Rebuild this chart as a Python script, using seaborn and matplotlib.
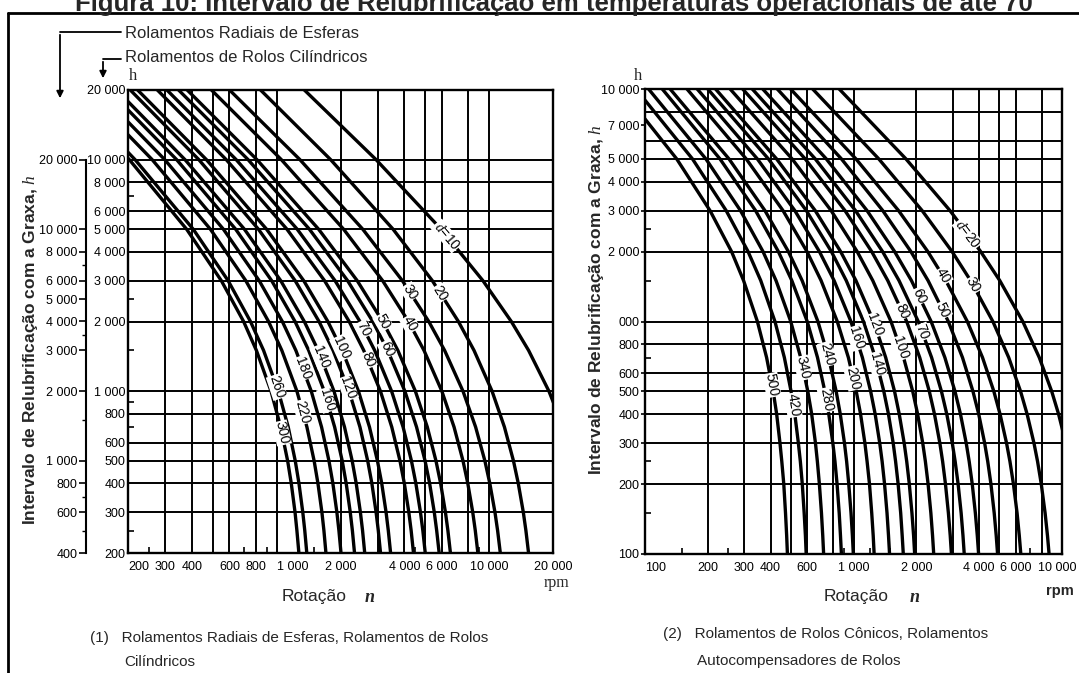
import numpy as np
import pandas as pd
import matplotlib
matplotlib.use("Agg")
import matplotlib.pyplot as plt
import matplotlib.transforms as mtransforms
import seaborn as sns
from matplotlib.lines import Line2D
from matplotlib.patches import FancyArrowPatch

W, H = 1079, 673

# ---------------- data: left chart (rpm n at each h level, inner h scale) -----------------
left_levels = [20000, 10000, 5000, 3000, 2000, 1500, 1000, 700, 500, 400, 300, 250, 200]
left_d = [10, 20, 30, 40, 50, 60, 70, 80, 100, 120, 140, 160, 180, 220, 260, 300]
L_d10 = [1352, 2942, 5959, 9363, 12731, 15354, 19137, 22320]
L_d20 = [841, 1798, 3540, 5412, 7176, 8499, 10335, 11817, 13032, 13725, 14499, 14912, 15346]
L_d30 = [601, 1289, 2549, 3912, 5205, 6180, 7542, 8648, 9561, 10083, 10663, 10974, 11300]
L_d40 = [494, 1054, 2071, 3158, 4178, 4943, 5998, 6846, 7543, 7943, 8381, 8616, 8861]
L_d50 = [380, 809, 1580, 2398, 3158, 3724, 4502, 5123, 5628, 5918, 6235, 6404, 6582]
L_d60 = [346, 735, 1430, 2161, 2837, 3335, 4018, 4560, 5001, 5253, 5525, 5671, 5825]
L_d70 = [305, 646, 1253, 1886, 2469, 2897, 3479, 3941, 4314, 4525, 4757, 4881, 5010]
L_d80 = [275, 580, 1121, 1683, 2197, 2573, 3083, 3486, 3810, 3993, 4193, 4300, 4411]
L_d100 = [222, 468, 899, 1343, 1744, 2037, 2430, 2738, 2985, 3126, 3277, 3357, 3442]
L_d120 = [205, 431, 823, 1224, 1585, 1846, 2195, 2469, 2686, 2809, 2941, 3012, 3086]
L_d140 = [177, 371, 707, 1047, 1351, 1570, 1863, 2089, 2270, 2371, 2481, 2540, 2600]
L_d160 = [162, 339, 643, 949, 1222, 1417, 1677, 1877, 2038, 2127, 2223, 2275, 2328]
L_d180 = [143, 298, 563, 829, 1065, 1233, 1457, 1629, 1765, 1841, 1923, 1966, 2011]
L_d220 = [125, 260, 489, 717, 917, 1059, 1247, 1390, 1503, 1566, 1635, 1671, 1708]
L_d260 = [105, 216, 406, 592, 754, 869, 1020, 1135, 1225, 1275, 1329, 1358, 1388]
L_d300 = [98, 203, 378, 550, 700, 804, 942, 1046, 1128, 1173, 1222, 1247, 1274]
left_curves = [L_d10, L_d20, L_d30, L_d40, L_d50, L_d60, L_d70, L_d80, L_d100,
               L_d120, L_d140, L_d160, L_d180, L_d220, L_d260, L_d300]
left_label_h = [4678, 2655, 2681, 1951, 1990, 1521, 1857, 1364, 1536, 1032, 1405,
                916, 1259, 813, 1043, 660]

left_inner_ticks = [20000, 10000, 8000, 6000, 5000, 4000, 3000, 2000, 1000, 800, 600, 500, 400, 300, 200]
left_inner_labels = ["20 000", "10 000", "8 000", "6 000", "5 000", "4 000", "3 000", "2 000",
                     "1 000", "800", "600", "500", "400", "300", "200"]
left_outer_ticks = [20000, 10000, 8000, 6000, 5000, 4000, 3000, 2000, 1000, 800, 600, 400]
left_outer_labels = ["20 000", "10 000", "8 000", "6 000", "5 000", "4 000", "3 000", "2 000",
                     "1 000", "800", "600", "400"]
left_x_ticks = [200, 300, 400, 600, 800, 1000, 2000, 4000, 6000, 10000, 20000]
left_x_labels = ["200", "300", "400", "600", "800", "1 000", "2 000", "4 000", "6 000", "10 000", "20 000"]
left_hgrid = [10000, 8000, 6000, 5000, 4000, 3000, 2000, 1000, 800, 600, 500, 400, 300]
left_vgrid = [300, 400, 500, 600, 800, 1000, 2000, 3000, 4000, 5000, 6000, 8000, 10000]
left_x_minor = [250, 700, 900, 1500, 4500, 9000]
left_y_minor = [7000, 2500, 1500, 900, 700, 250]
left_outer_minor = [7000, 3500, 1500, 700, 500]

# ---------------- data: right chart -----------------
right_levels = [10000, 5000, 3000, 2000, 1500, 1000, 700, 500, 400, 300, 250, 200, 150, 120, 100]
right_d = [20, 30, 40, 50, 60, 70, 80, 100, 120, 140, 160, 200, 240, 280, 340, 420, 500]
R_d20 = [854, 1786, 2902, 4072, 5029, 6486, 7780, 8930, 9627, 10430]
R_d30 = [637, 1323, 2133, 2968, 3644, 4661, 5552, 6331, 6801, 7337, 7635, 7954, 8298, 8518, 8670]
R_d40 = [499, 1028, 1644, 2271, 2772, 3515, 4157, 4713, 5044, 5420, 5628, 5849, 6089, 6239, 6345]
R_d50 = [431, 876, 1381, 1884, 2278, 2850, 3332, 3742, 3985, 4256, 4404, 4562, 4730, 4836, 4909]
R_d60 = [367, 741, 1161, 1574, 1896, 2357, 2743, 3068, 3258, 3472, 3588, 3711, 3841, 3924, 3981]
R_d70 = [327, 656, 1022, 1378, 1653, 2045, 2369, 2642, 2801, 2977, 3073, 3175, 3283, 3350, 3397]
R_d80 = [294, 587, 910, 1222, 1460, 1799, 2078, 2311, 2445, 2595, 2676, 2761, 2852, 2910, 2949]
R_d100 = [256, 508, 781, 1041, 1237, 1513, 1738, 1924, 2030, 2148, 2212, 2279, 2350, 2394, 2425]
R_d120 = [218, 428, 655, 867, 1027, 1249, 1427, 1574, 1657, 1750, 1800, 1852, 1907, 1942, 1965]
R_d140 = [200, 391, 594, 783, 923, 1117, 1272, 1398, 1471, 1550, 1592, 1637, 1684, 1712, 1733]
R_d160 = [178, 346, 523, 686, 807, 972, 1103, 1209, 1270, 1336, 1372, 1409, 1448, 1472, 1489]
R_d200 = [159, 306, 459, 598, 699, 836, 945, 1031, 1081, 1134, 1162, 1193, 1223, 1243, 1256]
R_d240 = [132, 253, 376, 487, 567, 675, 759, 826, 864, 905, 927, 949, 973, 988, 998]
R_d280 = [121, 229, 339, 436, 506, 600, 672, 729, 761, 796, 815, 834, 854, 866, 875]
R_d340 = [104, 196, 287, 368, 425, 500, 558, 604, 630, 657, 671, 686, 702, 712, 719]
R_d420 = [90.5, 169, 245, 312, 359, 420, 466, 502, 523, 544, 556, 568, 580, 588, 593]
R_d500 = [76.9, 142, 205, 260, 297, 346, 383, 412, 428, 444, 453, 463, 472, 478, 482]
right_curves = [R_d20, R_d30, R_d40, R_d50, R_d60, R_d70, R_d80, R_d100, R_d120,
                R_d140, R_d160, R_d200, R_d240, R_d280, R_d340, R_d420, R_d500]
right_label_h = [2378, 1435, 1569, 1121, 1287, 901, 1110, 769, 966, 657, 849, 571,
                 725, 460, 631, 437, 533]

right_y_ticks = [10000, 7000, 5000, 4000, 3000, 2000, 1000, 800, 600, 500, 400, 300, 200, 100]
right_y_labels = ["10 000", "7 000", "5 000", "4 000", "3 000", "2 000", "000", "800", "600",
                  "500", "400", "300", "200", "100"]
right_x_ticks = [100, 200, 300, 400, 600, 1000, 2000, 4000, 6000, 10000]
right_x_labels = ["100", "200", "300", "400", "600", "1 000", "2 000", "4 000", "6 000", "10 000"]
right_hgrid = [8000, 6000, 5000, 4000, 3000, 2000, 1000, 800, 600, 500, 400, 300, 200]
right_vgrid = [200, 300, 400, 500, 600, 800, 1000, 2000, 3000, 4000, 5000, 6000, 8000]
right_x_minor = [150, 250, 900, 1200, 1500, 7000]
right_y_minor = [2500, 1500, 700, 250, 150]

# ---------------- styling -----------------
sns.set_theme(style="white")
SANS = ["Liberation Sans", "DejaVu Sans"]
SERIF = ["Liberation Serif", "DejaVu Serif"]
plt.rcParams["font.family"] = SANS
plt.rcParams["mathtext.fontset"] = "custom"
plt.rcParams["mathtext.it"] = "Liberation Serif:italic"
plt.rcParams["mathtext.rm"] = "Liberation Sans"
plt.rcParams["mathtext.bf"] = "Liberation Sans:bold"
TICK = 9

fig = plt.figure(figsize=(W / 100, H / 100), dpi=100)
fig.patch.set_facecolor("white")


def fx(x):
    return x / W


def fy(y):
    return 1 - y / H


def make_df(levels, dvals, curves):
    rows = []
    for d, ns in zip(dvals, curves):
        for n, h in zip(ns, levels[:len(ns)]):
            rows.append({"n": n, "h": h, "d": d})
    return pd.DataFrame(rows)


def style_axes(ax, xlim, ylim, hgrid, vgrid):
    ax.set_xscale("log")
    ax.set_yscale("log")
    ax.set_xlim(*xlim)
    ax.set_ylim(*ylim)
    for v in hgrid:
        ax.axhline(v, color="black", lw=1.4, zorder=1)
    for v in vgrid:
        ax.axvline(v, color="black", lw=1.4, zorder=1)
    for s in ax.spines.values():
        s.set_color("black")
        s.set_linewidth(1.7)
        s.set_visible(True)
    ax.set_xlabel("")
    ax.set_ylabel("")


def draw_labels(ax, levels, dvals, curves, label_h):
    for i, (d, ns, hl) in enumerate(zip(dvals, curves, label_h)):
        lv = np.log10(np.array(levels[:len(ns)], float))[::-1]
        ln = np.log10(np.array(ns, float))[::-1]
        x = 10 ** np.interp(np.log10(hl), lv, ln)
        x1 = 10 ** np.interp(np.log10(hl * 1.15), lv, ln)
        x2 = 10 ** np.interp(np.log10(hl / 1.15), lv, ln)
        p1 = ax.transData.transform((x1, hl * 1.15))
        p2 = ax.transData.transform((x2, hl / 1.15))
        ang = np.degrees(np.arctan2(p2[1] - p1[1], p2[0] - p1[0]))
        txt = (r"$\mathit{d}$=" + str(d)) if i == 0 else str(d)
        ax.text(x, hl, txt, rotation=ang, rotation_mode="anchor", ha="center", va="center",
                fontsize=10, color="black", zorder=5,
                bbox=dict(facecolor="white", edgecolor="none", pad=0.4))


# ---------------- left chart -----------------
axL = fig.add_axes([fx(128), fy(553), fx(553) - fx(128), fy(90) - fy(553)])
dfL = make_df(left_levels, left_d, left_curves)
sns.lineplot(data=dfL, x="n", y="h", units="d", estimator=None, sort=False,
             color="black", lw=2.4, ax=axL, legend=False, zorder=3)
style_axes(axL, (200, 20000), (200, 20000), left_hgrid, left_vgrid)
axL.set_yticks(left_inner_ticks, left_inner_labels)
axL.set_xticks(left_x_ticks, left_x_labels)
axL.set_xticks(left_x_minor, minor=True)
axL.set_yticks(left_y_minor, minor=True)
axL.tick_params(axis="y", which="major", left=True, length=0, pad=2, labelsize=TICK, colors="black")
axL.tick_params(axis="x", which="major", bottom=True, length=0, pad=6, labelsize=TICK, colors="black")
axL.tick_params(which="minor", direction="in", length=4, width=1.2, left=True, bottom=True,
                labelleft=False, labelbottom=False, colors="black")
xl = axL.get_xticklabels()
xl[0].set_horizontalalignment("left")
xl[5].set_horizontalalignment("left")
draw_labels(axL, left_levels, left_d, left_curves, left_label_h)

# outer (ball bearing) scale
axO = fig.add_axes([fx(86), fy(553), 0.0005, fy(90) - fy(553)])
axO.set_yscale("log")
axO.set_ylim(400, 40000)
axO.patch.set_visible(False)
for k in ["top", "right", "bottom"]:
    axO.spines[k].set_visible(False)
axO.spines["left"].set_bounds(400, 20000)
axO.spines["left"].set_color("black")
axO.spines["left"].set_linewidth(1.5)
axO.set_xticks([])
axO.set_yticks(left_outer_ticks, left_outer_labels)
axO.set_yticks(left_outer_minor, minor=True)
axO.tick_params(axis="y", which="major", left=True, direction="out", length=5, width=1.2,
                pad=1, labelsize=TICK, colors="black")
axO.tick_params(axis="y", which="minor", left=True, direction="out", length=3, width=1.0,
                labelleft=False, colors="black")

# ---------------- right chart -----------------
axR = fig.add_axes([fx(645), fy(554), fx(1062) - fx(645), fy(89) - fy(554)])
dfR = make_df(right_levels, right_d, right_curves)
sns.lineplot(data=dfR, x="n", y="h", units="d", estimator=None, sort=False,
             color="black", lw=2.4, ax=axR, legend=False, zorder=3)
style_axes(axR, (100, 10000), (100, 10000), right_hgrid, right_vgrid)
axR.set_yticks(right_y_ticks, right_y_labels)
axR.set_xticks(right_x_ticks, right_x_labels)
axR.set_xticks(right_x_minor, minor=True)
axR.set_yticks(right_y_minor, minor=True)
axR.tick_params(axis="y", which="major", left=True, direction="out", length=3, width=1.2,
                pad=1, labelsize=TICK, colors="black")
axR.tick_params(axis="x", which="major", bottom=True, length=0, pad=6, labelsize=TICK, colors="black")
axR.tick_params(which="minor", direction="in", length=4, width=1.2, left=True, bottom=True,
                labelleft=False, labelbottom=False, colors="black")
xr = axR.get_xticklabels()
xr[0].set_horizontalalignment("left")
xr[-1].set_horizontalalignment("right")
xr[-1].set_transform(xr[-1].get_transform() + mtransforms.ScaledTranslation(0.15, 0, fig.dpi_scale_trans))
draw_labels(axR, right_levels, right_d, right_curves, right_label_h)

# ---------------- texts -----------------
fig.text(fx(75), fy(11), "Figura 10: Intervalo de Relubrificação em temperaturas operacionais de até 70",
         weight="bold", fontsize=18.5, va="baseline", ha="left")
fig.add_artist(Line2D([fx(8), fx(1079)], [fy(12.5), fy(12.5)], color="black", lw=2))
fig.add_artist(Line2D([fx(8), fx(8)], [fy(12.5), fy(673)], color="black", lw=2))

fig.text(fx(125), fy(33), "Rolamentos Radiais de Esferas", fontsize=12, va="center", ha="left")
fig.text(fx(125), fy(57), "Rolamentos de Rolos Cilíndricos", fontsize=12, va="center", ha="left")
fig.add_artist(Line2D([fx(60), fx(121)], [fy(32), fy(32)], color="black", lw=1.3))
fig.add_artist(FancyArrowPatch((fx(60), fy(32)), (fx(60), fy(101)), transform=fig.transFigure,
                               arrowstyle="-|>", mutation_scale=10, color="black", lw=1.3))
fig.add_artist(Line2D([fx(103), fx(121)], [fy(59), fy(59)], color="black", lw=1.3))
fig.add_artist(FancyArrowPatch((fx(103), fy(59)), (fx(103), fy(81)), transform=fig.transFigure,
                               arrowstyle="-|>", mutation_scale=10, color="black", lw=1.3))

fig.text(fx(129), fy(76), "h", fontsize=12, family=SERIF, va="center", ha="left")
fig.text(fx(634), fy(76), "h", fontsize=12, family=SERIF, va="center", ha="left")

ylabel = r"Intervalo de Relubrificação com a Graxa, $\mathit{h}$"
fig.text(fx(31), fy(350), ylabel, rotation=90, fontsize=12.5, weight="bold", va="center", ha="center")
fig.text(fx(596), fy(300), ylabel, rotation=90, fontsize=12.5, weight="bold", va="center", ha="center")

fig.text(fx(314), fy(597), "Rotação", fontsize=12.5, va="center", ha="center")
fig.text(fx(370), fy(598), "n", fontsize=13, style="italic", weight="bold",
         family=SERIF, va="center", ha="center")
fig.text(fx(557), fy(583), "rpm", fontsize=11.5, family=SERIF, va="center", ha="center")
fig.text(fx(856), fy(596), "Rotação", fontsize=12.5, va="center", ha="center")
fig.text(fx(915), fy(597), "n", fontsize=13, style="italic", weight="bold",
         family=SERIF, va="center", ha="center")
fig.text(fx(1060), fy(591), "rpm", fontsize=10.5, weight="bold", va="center", ha="center")

fig.text(fx(90), fy(638), "(1)   Rolamentos Radiais de Esferas, Rolamentos de Rolos", fontsize=11,
         va="center", ha="left")
fig.text(fx(124), fy(662), "Cilíndricos", fontsize=11, va="center", ha="left")
fig.text(fx(663), fy(634), "(2)   Rolamentos de Rolos Cônicos, Rolamentos", fontsize=11,
         va="center", ha="left")
fig.text(fx(697), fy(661), "Autocompensadores de Rolos", fontsize=11, va="center", ha="left")

fig.savefig("out.png", dpi=100, facecolor="white")
